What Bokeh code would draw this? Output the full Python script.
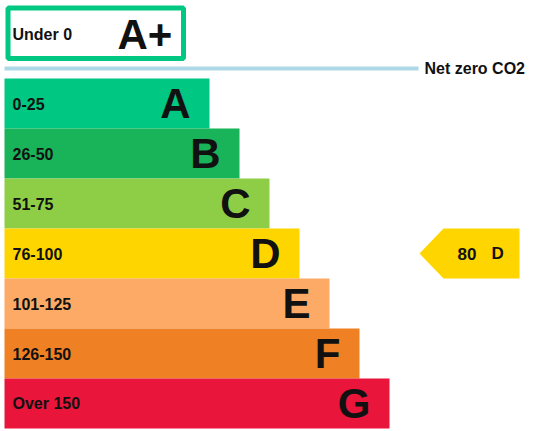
from bokeh.plotting import figure
from bokeh.models import Range1d, ColumnDataSource
from bokeh.core.properties import value
from bokeh.embed import file_html
from bokeh.resources import INLINE

# ---- data ----
bands = ["A", "B", "C", "D", "E", "F", "G"]
ranges = ["0-25", "26-50", "51-75", "76-100", "101-125", "126-150", "Over 150"]
bar_ends = [209, 239, 269, 299, 329, 359, 389]
colors = ["#00c781", "#19b459", "#8dce46", "#ffd500", "#fcaa65", "#ef8023", "#e9153b"]
top_band = "A+"
top_range = "Under 0"
top_color = "#00c781"
net_zero_label = "Net zero CO2"
current_value = 80
current_band = "D"

FONT = value("Liberation Sans")
ROW_H = 50
ROW0 = 78
X0 = 4

W, H = 528, 431
p = figure(width=W, height=H, x_range=Range1d(0, W), y_range=Range1d(H, 0),
           toolbar_location=None, output_backend="svg", min_border=0,
           x_axis_type=None, y_axis_type=None, outline_line_color=None)
p.grid.visible = False

tops = [ROW0 + ROW_H * i for i in range(len(bands))]
mids = [t + ROW_H / 2 for t in tops]
src = ColumnDataSource(dict(band=bands, rng=ranges, right=bar_ends, color=colors,
                            top=tops, bottom=[t + ROW_H for t in tops], mid=mids,
                            lx=[e - 19 for e in bar_ends]))

p.quad(left=X0, right="right", top="top", bottom="bottom", fill_color="color",
       line_color=None, source=src)
p.text(x=X0 + 8, y="mid", text="rng", text_font=FONT, text_font_style="bold",
       text_font_size="16px", text_baseline="middle", text_align="left",
       text_color="#111111", source=src)
p.text(x="lx", y="mid", text="band", text_font=FONT, text_font_style="bold",
       text_font_size="42px", text_baseline="middle", text_align="right",
       text_color="#111111", source=src)

# A+ box
p.quad(left=7.5, right=183, top=7.5, bottom=58, fill_color="white",
       line_color=top_color, line_width=5)
p.text(x=[12], y=[34], text=[top_range], text_font=FONT, text_font_style="bold",
       text_font_size="16px", text_baseline="middle", text_color="#111111")
p.text(x=[117], y=[34], text=[top_band], text_font=FONT, text_font_style="bold",
       text_font_size="42px", text_baseline="middle", text_color="#111111")

# net zero line
p.segment(x0=[X0], x1=[418], y0=[68], y1=[68], line_color="#add8e6", line_width=4)
p.text(x=[424], y=[68], text=[net_zero_label], text_font=FONT, text_font_style="bold",
       text_font_size="16px", text_baseline="middle", text_color="#111111")

# current rating arrow
ci = bands.index(current_band)
t, m, b = tops[ci], mids[ci], tops[ci] + ROW_H
p.patch(x=[419, 443, 519, 519, 443], y=[m, t, t, b, b], fill_color=colors[ci],
        line_color=None)
p.text(x=[457], y=[m], text=[str(current_value)], text_font=FONT, text_font_style="bold",
       text_font_size="17px", text_baseline="middle", text_color="#111111")
p.text(x=[491], y=[m], text=[current_band], text_font=FONT, text_font_style="bold",
       text_font_size="17px", text_baseline="middle", text_color="#111111")

open("out.html", "w").write(file_html(p, INLINE))
